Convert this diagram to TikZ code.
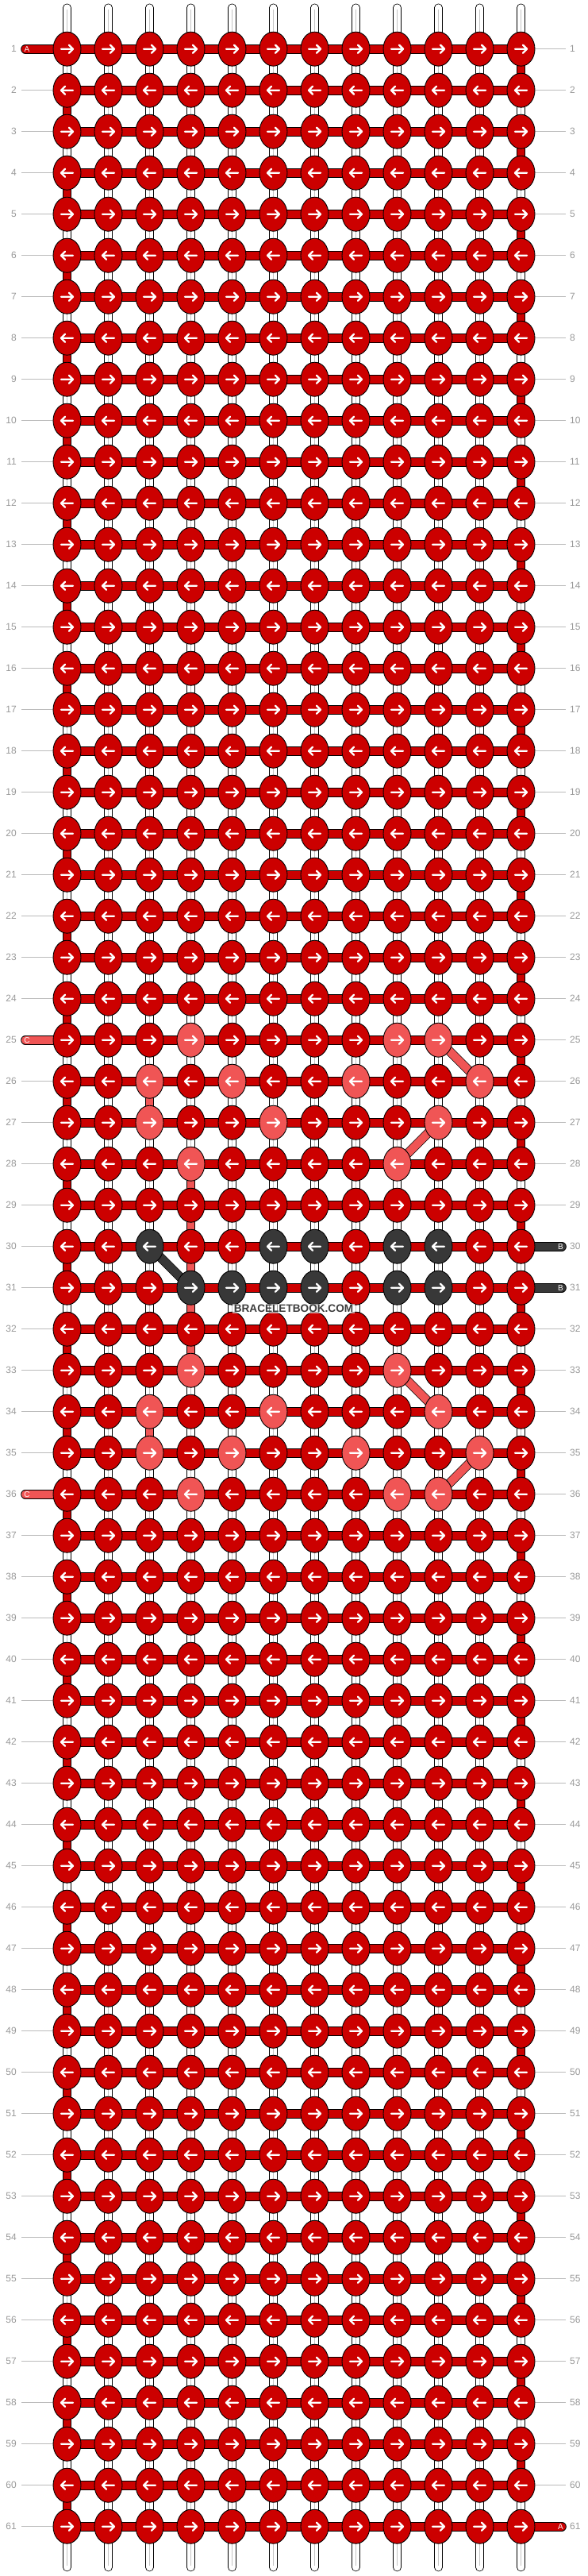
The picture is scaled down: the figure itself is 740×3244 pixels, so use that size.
\documentclass[tikz,border=0pt]{standalone}
\usepackage{fontspec}
\setmainfont{Liberation Sans}
\usetikzlibrary{shapes.geometric}
\pgfdeclarelayer{bg}
\pgfsetlayers{bg,main}
\definecolor{redk}{HTML}{CC0000}
\definecolor{pinkk}{HTML}{F05555}
\definecolor{darkk}{HTML}{383838}
\definecolor{labgray}{HTML}{999999}
\definecolor{linegray}{HTML}{BBBBBB}
\definecolor{threadgray}{HTML}{C4C4C4}
\definecolor{wmgray}{HTML}{3C3C3C}
\newcommand\knotrow[3]{\foreach \cc in {#2}{\expandafter\gdef\csname kc-#1-\cc\endcsname{#3}}}
\newcommand\vertset[3]{\expandafter\gdef\csname vc-#1-#2\endcsname{#3}}
\knotrow{25}{4,9,10}{pinkk}
\knotrow{26}{3,5,8,11}{pinkk}
\knotrow{27}{3,6,10}{pinkk}
\knotrow{28}{4,9}{pinkk}
\knotrow{30}{3,6,7,9,10}{darkk}
\knotrow{31}{4,5,6,7,9,10}{darkk}
\knotrow{33}{4,9}{pinkk}
\knotrow{34}{3,6,10}{pinkk}
\knotrow{35}{3,5,8,11}{pinkk}
\knotrow{36}{4,9,10}{pinkk}
\vertset{26}{3}{pinkk}
\vertset{34}{3}{pinkk}
\vertset{28}{4}{pinkk}
\vertset{29}{4}{pinkk}
\vertset{30}{4}{pinkk}
\vertset{31}{4}{pinkk}
\vertset{32}{4}{pinkk}
\def\whitename{white}
\tikzset{
  knot/.style={ellipse, draw=black, line width=0.9pt, minimum width=35pt, minimum height=43pt, inner sep=0pt},
  band/.style={line width=0.8pt, draw=black, double=#1, double distance=10pt},
  arr/.style={draw=white, line width=2.4pt, line cap=round, line join=round},
  rowlab/.style={text=labgray, font=\fontsize{12}{12}\selectfont, inner sep=0pt},
  rowline/.style={draw=linegray, line width=0.9pt},
  strlab/.style={text=white, font=\fontsize{10}{10}\selectfont, inner sep=0pt},
  thread/.style={draw=threadgray, line width=0.8pt},
  wm/.style={text=wmgray, font=\bfseries\fontsize{13.6}{14}\selectfont, fill=white, fill opacity=0.6, text opacity=1, inner sep=1.5pt}
}
\begin{document}
\begin{tikzpicture}[x=1pt,y=-1pt]
\useasboundingbox (0,0) rectangle (740,3244);
\begin{pgfonlayer}{bg}
\fill[white] (0,0) rectangle (740,3244);
\end{pgfonlayer}
% knots
\foreach \r in {1,...,61}{
  \foreach \c in {1,...,12}{
    \ifcsname kc-\r-\c\endcsname
      \edef\kcol{\csname kc-\r-\c\endcsname}%
    \else
      \def\kcol{redk}%
    \fi
    \node[knot, fill=\kcol] (k-\r-\c) at ({32.5+52*\c},{9.7+52*\r}) {};
    \ifodd\r
      \draw[arr] (k-\r-\c.center) ++(-7.5,0) -- ++(15,0) ++(-5,-5) -- ++(5,5) -- ++(-5,5);
    \else
      \draw[arr] (k-\r-\c.center) ++(7.5,0) -- ++(-15,0) ++(5,-5) -- ++(-5,5) -- ++(5,5);
    \fi
  }
  \node[rowlab, anchor=east] (lL-\r) at (21,{9.7+52*\r}) {\r};
  \node[rowlab, anchor=west] (lR-\r) at (718,{9.7+52*\r}) {\r};
}
% strand letters
\node[strlab] (tA1) at (34,61.7) {A};
\node[strlab] (tC25) at (34,1309.7) {C};
\node[strlab] (tC36) at (34,1881.7) {C};
\node[strlab] (tB30) at (706.5,1569.7) {B};
\node[strlab] (tB31) at (706.5,1621.7) {B};
\node[strlab] (tA61) at (706.5,3181.7) {A};
\node[wm] (wm) at (370,1648) {BRACELETBOOK.COM};
\coordinate (sA1) at (32,61.7);
\coordinate (sC25) at (32,1309.7);
\coordinate (sC36) at (32,1881.7);
\coordinate (sB30) at (708,1569.7);
\coordinate (sB31) at (708,1621.7);
\coordinate (sA61) at (708,3181.7);
\begin{pgfonlayer}{bg}
% row lines
\foreach \r in {1,...,61}{
  \ifnum\r=1 \else\ifnum\r=25 \else\ifnum\r=36 \else
    \draw[rowline] ([xshift=6pt]lL-\r.east) -- (k-\r-1.west);
  \fi\fi\fi
  \ifnum\r=30 \else\ifnum\r=31 \else\ifnum\r=61 \else
    \draw[rowline] (k-\r-12.east) -- ([xshift=-5pt]lR-\r.west);
  \fi\fi\fi
}
% horizontal bands
\foreach \r in {1,...,61}{
  \draw[band=redk] (k-\r-1.center) -- (k-\r-12.center);
}
% vertical connectors
\foreach \r in {1,...,60}{
  \pgfmathtruncatemacro\rn{\r+1}
  \foreach \c in {1,...,12}{
    \def\vcol{white}%
    \ifnum\c=12 \ifodd\r \def\vcol{redk}\fi\fi
    \ifnum\c=1 \ifodd\r\else \def\vcol{redk}\fi\fi
    \ifcsname vc-\r-\c\endcsname \edef\vcol{\csname vc-\r-\c\endcsname}\fi
    \draw[band=\vcol, double distance=9pt] (k-\r-\c.center) -- (k-\rn-\c.center);
    \ifx\vcol\whitename
      \draw[thread] (k-\r-\c.center) -- (k-\rn-\c.center);
    \fi
  }
}
% pins
\foreach \c in {1,...,12}{
  \coordinate (pt-\c) at ({32.5+52*\c},9.8);
  \coordinate (pb-\c) at ({32.5+52*\c},3233);
  \draw[band=white, double distance=9pt, line cap=round] (pt-\c) -- (k-1-\c.center);
  \draw[thread] (pt-\c) ++(0,2) -- (k-1-\c.center);
  \draw[band=white, double distance=9pt, line cap=round] (k-61-\c.center) -- (pb-\c);
  \draw[thread] (pb-\c) ++(0,-2) -- (k-61-\c.center);
}
% diagonals
\draw[band=pinkk] (k-25-10.center) -- (k-26-11.center);
\draw[band=pinkk] (k-27-10.center) -- (k-28-9.center);
\draw[band=darkk] (k-30-3.center) -- (k-31-4.center);
\draw[band=pinkk] (k-33-9.center) -- (k-34-10.center);
\draw[band=pinkk] (k-35-11.center) -- (k-36-10.center);
% strands
\draw[band=redk, line cap=round] (sA1) -- (k-1-1.center);
\draw[band=pinkk, line cap=round] (sC25) -- (k-25-1.center);
\draw[band=pinkk, line cap=round] (sC36) -- (k-36-1.center);
\draw[band=darkk, line cap=round] (k-30-12.center) -- (sB30);
\draw[band=darkk, line cap=round] (k-31-12.center) -- (sB31);
\draw[band=redk, line cap=round] (k-61-12.center) -- (sA61);
\end{pgfonlayer}
\end{tikzpicture}
\end{document}
